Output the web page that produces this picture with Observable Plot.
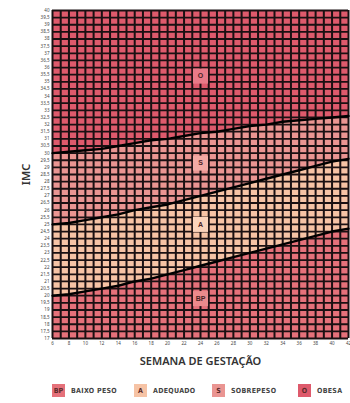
<!DOCTYPE html>
<html><head><meta charset="utf-8">
<script src="https://cdn.jsdelivr.net/npm/d3@7"></script>
<script src="https://cdn.jsdelivr.net/npm/@observablehq/plot@0.6"></script>
<style>
body{margin:0;background:#fff;font-family:"Open Sans","Liberation Sans",sans-serif;}
#legend{display:flex;align-items:center;white-space:nowrap;margin:16px 0 0 52px;font-family:"Liberation Sans Narrow","DejaVu Sans Condensed","Liberation Sans",sans-serif;font-weight:bold;font-size:7px;color:#444;}
.sw{flex:none;width:13px;height:13px;display:flex;align-items:center;justify-content:center;font-size:7px;color:#5a2a2a;margin-right:6px;}
.lb{flex:none;display:inline-block;letter-spacing:0.3px;}
</style></head><body>
<div id="chart"></div>
<div id="legend"></div>
<script>
const weeks  = [6,8,10,12,14,16,18,20,22,24,26,28,30,32,34,36,38,40,42];
const lower  = [20.0,20.1,20.3,20.5,20.7,21.0,21.2,21.5,21.8,22.1,22.4,22.7,23.0,23.3,23.6,23.9,24.2,24.5,24.7];
const middle = [25.0,25.1,25.3,25.5,25.7,26.0,26.2,26.4,26.7,27.0,27.3,27.6,27.9,28.2,28.5,28.8,29.1,29.4,29.6];
const upper  = [30.0,30.1,30.2,30.3,30.5,30.7,30.9,31.0,31.2,31.4,31.5,31.7,31.9,32.0,32.2,32.3,32.4,32.5,32.6];
const xTicks = [6,8,10,12,14,16,18,20,22,24,26,28,30,32,34,36,38,40,42];
const yMin = 17, yMax = 40;
const categories = ["BP","A","S","O"];
const categoryNames = ["BAIXO PESO","ADEQUADO","SOBREPESO","OBESA"];
const regionColors = ["#e5717a","#f6c3a5","#ea9592","#de5a6c"];
const boxColors = ["#ec8a8c","#fad3bb","#f2aaa4","#e97a88"];
const labelWeek = [24,24,24,24];
const labelImc = [19.8,25.0,29.3,35.4];

const rows = weeks.map((w,i)=>({w, lo:lower[i], mid:middle[i], up:upper[i], min:yMin, max:yMax}));
const vGrid = d3.range(6,42.001,1);
const hGrid = d3.range(yMin,yMax+0.001,0.5);
const yTicks = hGrid;
const labels = categories.map((c,i)=>({c, w:labelWeek[i], v:labelImc[i], fill:boxColors[i]}));

const chart = Plot.plot({
  width:350, height:368,
  marginLeft:52, marginRight:2, marginTop:10, marginBottom:30,
  x:{domain:[6,42], ticks:xTicks, tickSize:0, tickPadding:3, label:"SEMANA DE GESTAÇÃO", labelAnchor:"center", labelArrow:"none", labelOffset:26},
  y:{domain:[yMin,yMax], ticks:yTicks, tickSize:0, tickPadding:3, label:"IMC", labelAnchor:"center", labelArrow:"none", labelOffset:30,
     tickFormat:d=> d%1 ? String(d).replace(".",",") : String(d)},
  style:{fontSize:"4.5px", color:"#444", overflow:"visible"},
  marks:[
    Plot.areaY(rows,{x:"w", y1:"up", y2:"max", fill:regionColors[3]}),
    Plot.areaY(rows,{x:"w", y1:"mid", y2:"up", fill:regionColors[2]}),
    Plot.areaY(rows,{x:"w", y1:"lo", y2:"mid", fill:regionColors[1]}),
    Plot.areaY(rows,{x:"w", y1:"min", y2:"lo", fill:regionColors[0]}),
    Plot.ruleX(vGrid,{stroke:"#1a1012", strokeWidth:2}),
    Plot.ruleY(hGrid,{stroke:"#1a1012", strokeWidth:1.8}),
    Plot.lineY(rows,{x:"w", y:"lo", stroke:"#000", strokeWidth:2.4}),
    Plot.lineY(rows,{x:"w", y:"mid", stroke:"#000", strokeWidth:2.4}),
    Plot.lineY(rows,{x:"w", y:"up", stroke:"#000", strokeWidth:2.4}),
    Plot.dot(labels,{x:"w", y:"v", symbol:"square", r:8.5, fill:d=>d.fill, stroke:"none"}),
    Plot.text(labels,{x:"w", y:"v", text:"c", fill:"#4a2226", fontSize:7, fontWeight:"bold", fontFamily:"Liberation Sans Narrow, sans-serif"})
  ]
});
document.getElementById("chart").append(chart);
chart.querySelectorAll("g[aria-label='x-axis label'] text, g[aria-label='y-axis label'] text").forEach(t=>{
  t.style.fontSize="11px"; t.style.fontWeight="600"; t.style.fill="#333";
});

const labelWidths = [63, 59, 67, 40];
const lg = document.getElementById("legend");
categories.forEach((c,i)=>{
  const sw=document.createElement("div"); sw.className="sw"; sw.style.background=regionColors[i]; sw.textContent=c;
  const lb=document.createElement("span"); lb.className="lb"; lb.style.width=labelWidths[i]+"px"; lb.textContent=categoryNames[i];
  lg.append(sw,lb);
});
</script></body></html>
